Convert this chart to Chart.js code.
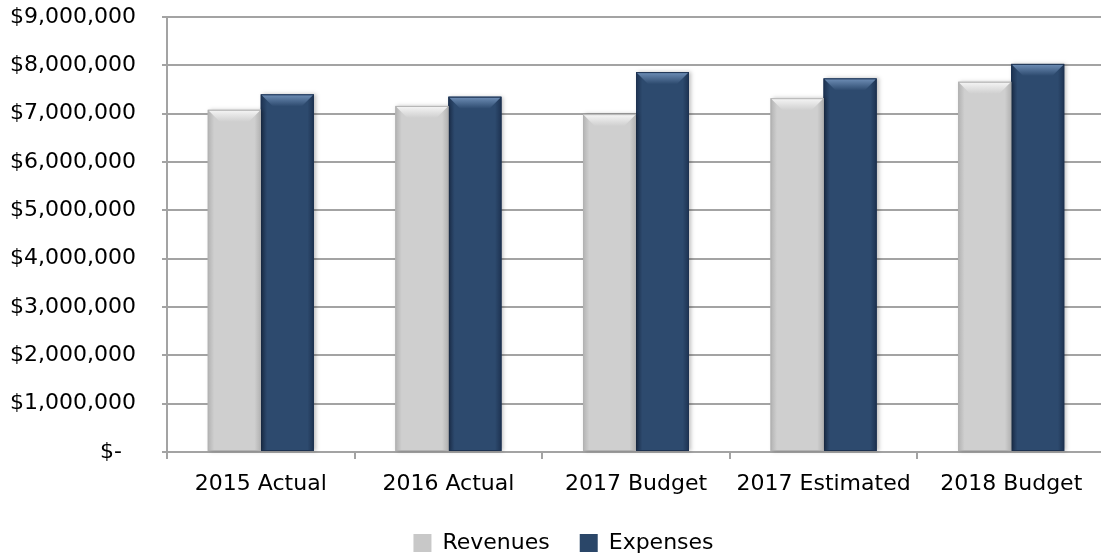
<!DOCTYPE html>
<html>
<head>
<meta charset="utf-8">
<script src="https://cdn.jsdelivr.net/npm/chart.js@4.4.0/dist/chart.umd.min.js"></script>
<style>
  html, body { margin: 0; padding: 0; background: #fff; overflow: hidden; }
  #wrap { width: 1105px; height: 558px; }
</style>
</head>
<body>
<div id="wrap"><canvas id="budget-chart"></canvas></div>
<script>
// Revenues vs expenses by year
const categories = ['2015 Actual', '2016 Actual', '2017 Budget', '2017 Estimated', '2018 Budget'];
const revenues = [7080000, 7160000, 6990000, 7320000, 7660000];
const expenses = [7400000, 7350000, 7860000, 7730000, 8030000];
const yTicks = [0, 1000000, 2000000, 3000000, 4000000, 5000000, 6000000, 7000000, 8000000, 9000000];

const FONT = "'DejaVu Sans', sans-serif";
const GRID = '#a3a3a3';

// colours for the bevelled bars: [edge, middle, top highlight]
const barShades = [
    ['#b2b2b2', '#cfcfcf', '#f6f6f6'], // Revenues
    ['#1d3251', '#2d4a6e', '#7090b8']  // Expenses
];

function formatMoney(v) {
    if (v === 0) return '$-  ';
    return '$' + v.toLocaleString('en-US');
}

// Paint each bar with a side gradient and a lighter top bevel
const bevelPlugin = {
    id: 'bevel',
    afterDatasetDraw(chart, args) {
        const ctx = chart.ctx;
        const shades = barShades[args.index];
        args.meta.data.forEach(bar => {
            const left = bar.x - bar.width / 2;
            const right = bar.x + bar.width / 2;
            const top = bar.y;
            const bottom = bar.base;
            const w = right - left;
            ctx.save();
            ctx.shadowColor = 'rgba(0,0,0,0.25)';
            ctx.shadowBlur = 4;
            ctx.shadowOffsetX = 2;
            const g = ctx.createLinearGradient(left, 0, right, 0);
            g.addColorStop(0, shades[0]);
            g.addColorStop(0.12, shades[1]);
            g.addColorStop(0.88, shades[1]);
            g.addColorStop(1, shades[0]);
            ctx.fillStyle = g;
            ctx.fillRect(left, top, w, bottom - top);
            ctx.shadowColor = 'transparent';

            // top bevel
            const bev = 12;
            const tg = ctx.createLinearGradient(0, top, 0, top + bev);
            tg.addColorStop(0, shades[2]);
            tg.addColorStop(1, shades[1]);
            ctx.fillStyle = tg;
            ctx.beginPath();
            ctx.moveTo(left, top);
            ctx.lineTo(right, top);
            ctx.lineTo(right - bev, top + bev);
            ctx.lineTo(left + bev, top + bev);
            ctx.closePath();
            ctx.fill();

            ctx.strokeStyle = shades[0];
            ctx.lineWidth = 1;
            ctx.strokeRect(left + 0.5, top + 0.5, w - 1, bottom - top - 1);
            ctx.restore();
        });
    }
};

// Nudge the legend to where it sits in the original
const legendShift = {
    id: 'legendShift',
    afterLayout(chart) {
        const lg = chart.legend;
        if (!lg) return;
        lg.left += 11;
        lg.right += 11;
        lg.top += 6;
        lg.bottom += 6;
    }
};

const ctx = document.getElementById('budget-chart').getContext('2d');
const budgetChart = new Chart(ctx, {
    type: 'bar',
    data: {
        labels: categories,
        datasets: [
            {
                label: 'Revenues',
                data: revenues,
                backgroundColor: '#c8c8c8',
                borderWidth: 0,
                categoryPercentage: 0.565,
                barPercentage: 1.0
            },
            {
                label: 'Expenses',
                data: expenses,
                backgroundColor: '#2a4668',
                borderWidth: 0,
                categoryPercentage: 0.565,
                barPercentage: 1.0
            }
        ]
    },
    options: {
        responsive: true,
        maintainAspectRatio: false,
        animation: false,
        layout: {
            padding: { top: 17, left: 0, right: 0, bottom: 0 }
        },
        scales: {
            y: {
                min: 0,
                max: 9000000,
                afterBuildTicks: function(scale) {
                    scale.ticks = yTicks.map(v => ({ value: v }));
                },
                afterFit: function(scale) {
                    scale.width = 167;
                    scale.paddingTop = 0;
                    scale.paddingBottom = 0;
                },
                grid: {
                    color: GRID,
                    lineWidth: 2,
                    tickLength: 5,
                    drawTicks: true
                },
                border: { display: true, color: GRID, width: 2 },
                ticks: {
                    padding: 26,
                    color: '#000',
                    font: { family: FONT, size: 22 },
                    callback: function(value) {
                        return formatMoney(value);
                    }
                }
            },
            x: {
                afterFit: function(scale) {
                    scale.height = 44;
                },
                grid: {
                    display: true,
                    drawOnChartArea: false,
                    color: GRID,
                    lineWidth: 2,
                    tickLength: 7
                },
                border: { display: true, color: GRID, width: 2 },
                ticks: {
                    padding: 12,
                    color: '#000',
                    maxRotation: 0,
                    font: { family: FONT, size: 22 }
                }
            }
        },
        plugins: {
            legend: {
                position: 'bottom',
                labels: {
                    color: '#000',
                    font: { family: FONT, size: 22 },
                    boxWidth: 18,
                    boxHeight: 18,
                    padding: 30
                }
            },
            tooltip: { enabled: false }
        }
    },
    plugins: [bevelPlugin, legendShift]
});
</script>
</body>
</html>
